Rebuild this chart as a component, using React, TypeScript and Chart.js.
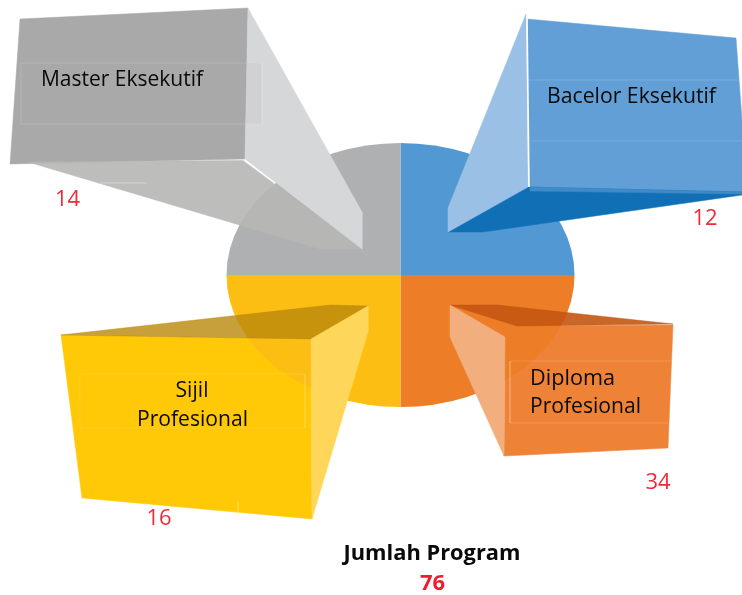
import React, { useEffect, useRef } from "react";
import { Chart, registerables } from "chart.js";

Chart.register(...registerables);

type Pt = [number, number];

// Program categories and the counts printed beside each callout
const categories = ["Bacelor Eksekutif", "Diploma Profesional", "Sijil Profesional", "Master Eksekutif"];
const programCounts = [12, 34, 16, 14];
const totalLabel = "Jumlah Program";
const totalValue = 76;
// The reference draws all four slices the same size
const sliceShares = [25, 25, 25, 25];
const sliceColors = ["#5299D3", "#ED7D26", "#FDBE14", "#AFB0B2"];

// Callout faces, in the chart's 742 x 595 data space
const yellowFront: Pt[] = [[61, 335], [311, 339], [312, 519], [82, 498]];
const orangeFront: Pt[] = [[517, 326], [673, 325], [668, 448], [504, 456], [505, 337]];
const yellowTop: Pt[] = [[61, 335], [330, 305], [368, 306], [311, 339]];
const yellowSide: Pt[] = [[311, 339], [368, 306], [368, 332], [312, 519]];
const orangeTop: Pt[] = [[450, 305], [497, 305], [673, 324], [517, 326]];
const orangeSide: Pt[] = [[450, 305], [505, 337], [504, 456], [450, 337]];
const greyFront: Pt[] = [[20, 19], [248, 8], [245, 159], [10, 164]];
const greyBottom: Pt[] = [[28, 162], [243, 160.5], [362, 249], [320, 249]];
const greySide: Pt[] = [[248, 8], [362, 212], [362, 249], [245, 159]];
const greyBox: Pt[] = [[21, 63], [262, 63], [262, 124], [21, 124]];
const blueFront: Pt[] = [[527, 19], [736, 38], [742, 120], [742, 193], [529, 187]];
const blueBottom: Pt[] = [[448, 232], [524, 187], [742, 192], [742, 195], [483, 232]];
const blueStrip: Pt[] = [[530, 187], [742, 192], [742, 194], [530, 191]];
const blueSide: Pt[] = [[526, 14], [528, 187], [448, 232], [448, 208]];
const yellowBox: Pt[] = [[80, 374], [305, 374], [305, 428], [80, 428]];
const orangeBox: Pt[] = [[510, 361], [671, 361], [669, 423], [510, 423]];

// Hairlines on the faces
const blueRuleA: Pt[] = [[529, 80], [742, 80]];
const blueRuleB: Pt[] = [[529, 141], [742, 141]];
const blueSeam: Pt[] = [[527, 16], [529, 187]];
const greyRule: Pt[] = [[100, 183], [147, 183]];
const yellowRule: Pt[] = [[238, 501], [238, 512]];

const pieEllipse = { cx: 400.5, cy: 275, rx: 174, ry: 132 };

const faceLabels: { text: string; x: number; y: number; w: number; align: CanvasTextAlign }[] = [
  { text: "Master Eksekutif", x: 41, y: 86, w: 162, align: "left" },
  { text: "Bacelor Eksekutif", x: 547, y: 103, w: 169, align: "left" },
  { text: "Sijil", x: 192, y: 397, w: 33, align: "center" },
  { text: "Profesional", x: 192.5, y: 426, w: 111, align: "center" },
  { text: "Diploma", x: 530, y: 385, w: 85, align: "left" },
  { text: "Profesional", x: 530, y: 413, w: 111, align: "left" },
];
const countAnchors: Pt[] = [[705, 225], [658, 489], [159, 525], [67.5, 206]];

const face = (pts: Pt[], color: string) => ({
  type: "scatter" as const,
  data: [...pts, pts[0]].map(([x, y]) => ({ x, y })),
  showLine: true,
  fill: "shape",
  backgroundColor: color,
  borderColor: color,
  borderWidth: 0.5,
  pointRadius: 0,
  tension: 0,
  weight: 0,
});
const rule = (pts: Pt[], color: string, width = 1) => ({
  type: "scatter" as const,
  data: pts.map(([x, y]) => ({ x, y })),
  showLine: true,
  fill: false,
  borderColor: color,
  borderWidth: width,
  pointRadius: 0,
  tension: 0,
  weight: 0,
});

const ellipsePlugin = {
  id: "ellipsePie",
  beforeDatasetDraw(chart: any, args: any) {
    if (args.meta.type !== "pie") return;
    const arc = args.meta.data[0];
    const { x, y, outerRadius } = arc.getProps(["x", "y", "outerRadius"], true);
    const ctx = chart.ctx;
    ctx.save();
    ctx.translate(pieEllipse.cx, pieEllipse.cy);
    ctx.scale(pieEllipse.rx / outerRadius, pieEllipse.ry / outerRadius);
    ctx.translate(-x, -y);
  },
  afterDatasetDraw(chart: any, args: any) {
    if (args.meta.type === "pie") chart.ctx.restore();
  },
};

const labelPlugin = {
  id: "labels",
  afterDraw(chart: any) {
    const { ctx, scales } = chart;
    const px = (v: number) => scales.x.getPixelForValue(v);
    const py = (v: number) => scales.y.getPixelForValue(v);
    ctx.save();
    ctx.textBaseline = "alphabetic";
    ctx.font = '22px "Open Sans"';
    ctx.fillStyle = "#0A0A0A";
    faceLabels.forEach((l) => {
      ctx.textAlign = l.align;
      ctx.fillText(l.text, px(l.x), py(l.y), l.w);
    });
    ctx.font = '22px "Open Sans"';
    ctx.fillStyle = "#EF2B3A";
    ctx.textAlign = "center";
    programCounts.forEach((v, i) => {
      ctx.fillText(String(v), px(countAnchors[i][0]), py(countAnchors[i][1]));
    });
    ctx.font = 'bold 22px "Open Sans"';
    ctx.fillStyle = "#0A0A0A";
    ctx.fillText(totalLabel, px(432), py(560), 177);
    ctx.fillStyle = "#ED1C2E";
    ctx.fillText(String(totalValue), px(432.5), py(590));
    ctx.restore();
  },
};

export default function App() {
  const ref = useRef<HTMLCanvasElement | null>(null);
  useEffect(() => {
    if (!ref.current) return;
    // Listed bottom to top; order is assigned so that later entries paint above earlier ones
    const layers: any[] = [
      face(yellowFront, "#FFC907"),
      face(orangeFront, "#EE8338"),
      rule(yellowRule, "rgba(255,255,255,0.15)"),
      {
        type: "pie" as const,
        data: sliceShares,
        backgroundColor: sliceColors,
        borderWidth: 0,
        cutout: 0,
        weight: 1,
      },
      rule(yellowBox.concat([yellowBox[0]]), "rgba(255,255,255,0.12)"),
      rule(orangeBox.slice(0, 2), "rgba(255,255,255,0.15)"),
      rule([orangeBox[3], orangeBox[2]], "rgba(255,255,255,0.15)"),
      rule([orangeBox[0], orangeBox[3]], "rgba(255,255,255,0.15)"),
      face(yellowTop, "rgba(186,136,10,0.8)"),
      face(yellowSide, "#FED65A"),
      face(orangeTop, "rgba(195,86,18,0.9)"),
      face(orangeSide, "#F3AE7D"),
      face(greyFront, "#A9A9A9"),
      face(greyBottom, "rgba(182,182,180,0.91)"),
      face(greySide, "#D6D7D9"),
      rule(greyRule, "#D4D4D4"),
      face(greyBox, "rgba(169,169,169,0.12)"),
      rule(greyBox.concat([greyBox[0]]), "rgba(255,255,255,0.14)"),
      face(blueFront, "#639FD7"),
      face(blueBottom, "#1170B5"),
      face(blueStrip, "#3F8AC8"),
      face(blueSide, "#9BC0E6"),
      rule(blueSeam, "#FFFFFF", 1.6),
      rule(blueRuleA, "rgba(255,255,255,0.14)"),
      rule(blueRuleB, "rgba(255,255,255,0.14)"),
    ];
    layers.forEach((d, i) => (d.order = layers.length - i));
    const chart = new Chart(ref.current, {
      type: "scatter",
      data: { labels: categories, datasets: layers },
      options: {
        responsive: false,
        animation: false,
        events: [],
        layout: { padding: 0 },
        plugins: { legend: { display: false }, tooltip: { enabled: false }, title: { display: false } },
        scales: {
          x: { type: "linear", min: 0, max: 742, display: false },
          y: { type: "linear", min: 0, max: 595, reverse: true, display: false },
        },
      },
      plugins: [ellipsePlugin, labelPlugin],
    } as any);
    return () => chart.destroy();
  }, []);
  return (
    <div style={{ position: "absolute", left: 0, top: 0, width: 742, height: 595, background: "#FFFFFF" }}>
      <canvas ref={ref} width={742} height={595} style={{ display: "block" }} />
    </div>
  );
}
